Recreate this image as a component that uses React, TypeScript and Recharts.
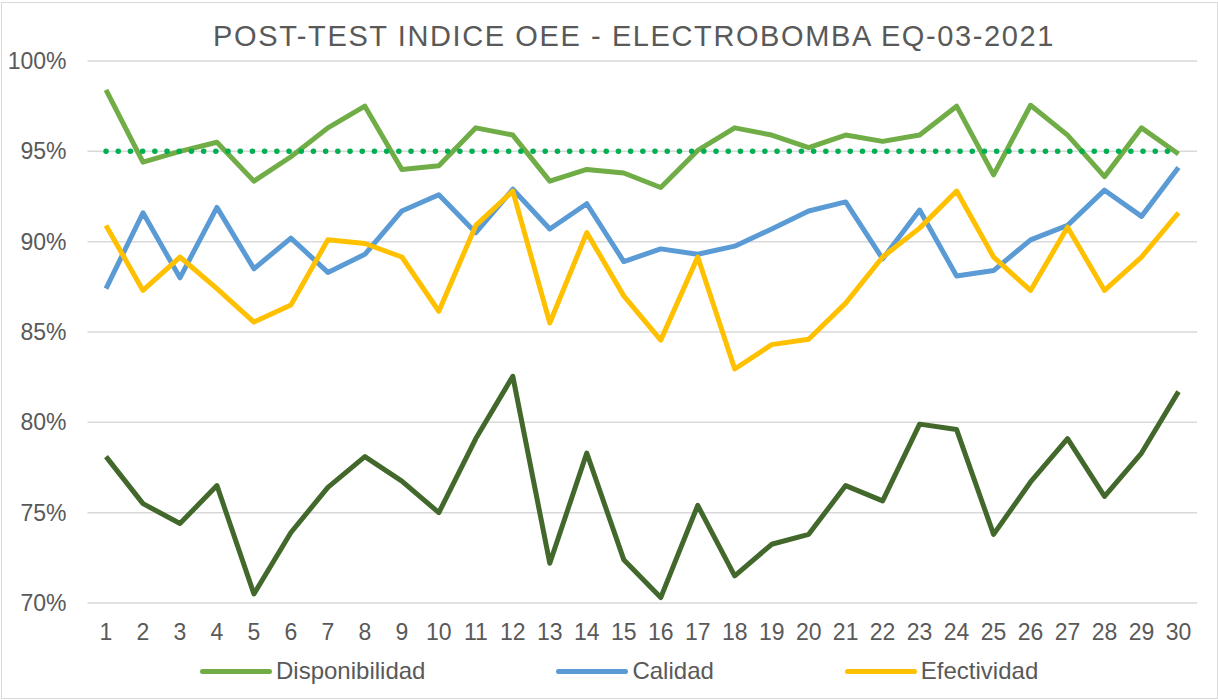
import React from "react";
import {
  LineChart,
  Line,
  XAxis,
  YAxis,
  CartesianGrid,
  Legend,
} from "recharts";

// Days of the post-test
const days = [
  1, 2, 3, 4, 5, 6, 7, 8, 9, 10, 11, 12, 13, 14, 15, 16, 17, 18, 19, 20, 21,
  22, 23, 24, 25, 26, 27, 28, 29, 30,
];

const disponibilidad = [
  98.4, 94.4, 95.0, 95.5, 93.35, 94.7, 96.3, 97.5, 94.0, 94.2, 96.3, 95.9,
  93.35, 94.0, 93.8, 93.0, 95.05, 96.3, 95.9, 95.2, 95.9, 95.55, 95.9, 97.5,
  93.7, 97.55, 95.9, 93.6, 96.3, 94.85,
];

const calidad = [
  87.4, 91.6, 88.0, 91.9, 88.5, 90.2, 88.3, 89.3, 91.7, 92.6, 90.5, 92.9, 90.7,
  92.1, 88.9, 89.6, 89.3, 89.75, 90.7, 91.7, 92.2, 89.05, 91.75, 88.1, 88.4,
  90.1, 90.9, 92.85, 91.4, 94.1,
];

const efectividad = [
  90.9, 87.3, 89.15, 87.4, 85.55, 86.5, 90.1, 89.9, 89.15, 86.15, 90.9, 92.8,
  85.5, 90.5, 87.0, 84.55, 89.15, 82.95, 84.3, 84.6, 86.6, 89.15, 90.75, 92.8,
  89.15, 87.3, 90.8, 87.3, 89.15, 91.6,
];

const oee = [
  78.1, 75.5, 74.4, 76.5, 70.5, 73.9, 76.4, 78.1, 76.75, 75.0, 79.1, 82.55,
  72.2, 78.3, 72.4, 70.3, 75.4, 71.5, 73.25, 73.8, 76.5, 75.65, 79.9, 79.6,
  73.8, 76.7, 79.1, 75.9, 78.3, 81.7,
];

// Target line (meta 95%)
const meta = [
  95, 95, 95, 95, 95, 95, 95, 95, 95, 95, 95, 95, 95, 95, 95, 95, 95, 95, 95,
  95, 95, 95, 95, 95, 95, 95, 95, 95, 95, 95,
];

const yTicks = [70, 75, 80, 85, 90, 95, 100];

const legendItems = [
  { label: "Disponibilidad", color: "#70AD47" },
  { label: "Calidad", color: "#5B9BD5" },
  { label: "Efectividad", color: "#FFC000" },
];

const FONT = "'Liberation Sans', Arial, sans-serif";
const TEXT = "#595959";

const data = days.map((d, i) => ({
  day: d,
  disponibilidad: disponibilidad[i],
  calidad: calidad[i],
  efectividad: efectividad[i],
  oee: oee[i],
  meta: meta[i],
}));

function ChartLegend() {
  return (
    <div
      style={{
        height: 30,
        display: "flex",
        alignItems: "center",
        fontFamily: FONT,
        fontSize: 24,
        color: TEXT,
        paddingLeft: 200,
      }}
    >
      {legendItems.map((it) => (
        <div
          key={it.label}
          style={{ display: "flex", alignItems: "center", marginRight: 131 }}
        >
          <span
            style={{
              display: "inline-block",
              width: 72,
              height: 5,
              borderRadius: 3,
              background: it.color,
              marginRight: 4,
            }}
          />
          <span>{it.label}</span>
        </div>
      ))}
    </div>
  );
}

export default function App() {
  return (
    <div
      style={{
        position: "absolute",
        left: 0,
        top: 0,
        width: 1218,
        height: 700,
        background: "#fff",
      }}
    >
      <div
        style={{
          position: "absolute",
          left: 1,
          top: 2,
          width: 1217,
          height: 697,
          border: "1px solid #D9D9D9",
          boxSizing: "border-box",
        }}
      />
      <div
        style={{
          position: "absolute",
          top: 18,
          left: 0,
          width: 1268,
          textAlign: "center",
          fontFamily: FONT,
          fontSize: 29,
          letterSpacing: 1.6,
          color: TEXT,
          lineHeight: "36px",
        }}
      >
        POST-TEST INDICE OEE - ELECTROBOMBA EQ-03-2021
      </div>
      <LineChart
        width={1218}
        height={700}
        data={data}
        margin={{ top: 61, right: 21, bottom: 14, left: 0 }}
        style={{ position: "absolute", left: 0, top: 0 }}
      >
        <CartesianGrid
          vertical={false}
          stroke="#D9D9D9"
          strokeWidth={1.5}
        />
        <XAxis
          dataKey="day"
          axisLine={false}
          tickLine={false}
          tickSize={0}
          tickMargin={21}
          height={53}
          interval={0}
          padding={{ left: 18.5, right: 18.5 }}
          tick={{ fill: TEXT, fontSize: 23, fontFamily: FONT }}
        />
        <YAxis
          domain={[70, 100]}
          ticks={yTicks}
          axisLine={false}
          tickLine={false}
          tickSize={0}
          tickMargin={21}
          width={87.5}
          tickFormatter={(v: number) => `${v}%`}
          tick={{ fill: TEXT, fontSize: 23, fontFamily: FONT }}
        />
        <Legend verticalAlign="bottom" content={() => <ChartLegend />} />
        <Line
          dataKey="oee"
          stroke="#43682B"
          strokeWidth={5}
          dot={false}
          strokeLinejoin="round"
          isAnimationActive={false}
        />
        <Line
          dataKey="disponibilidad"
          stroke="#70AD47"
          strokeWidth={5}
          dot={false}
          strokeLinejoin="round"
          isAnimationActive={false}
        />
        <Line
          dataKey="calidad"
          stroke="#5B9BD5"
          strokeWidth={5}
          dot={false}
          strokeLinejoin="round"
          isAnimationActive={false}
        />
        <Line
          dataKey="efectividad"
          stroke="#FFC000"
          strokeWidth={5}
          dot={false}
          strokeLinejoin="round"
          isAnimationActive={false}
        />
        <Line
          dataKey="meta"
          stroke="#00B050"
          strokeWidth={5.5}
          strokeDasharray="0.1 12.1"
          strokeLinecap="round"
          dot={false}
          isAnimationActive={false}
        />
      </LineChart>
    </div>
  );
}
